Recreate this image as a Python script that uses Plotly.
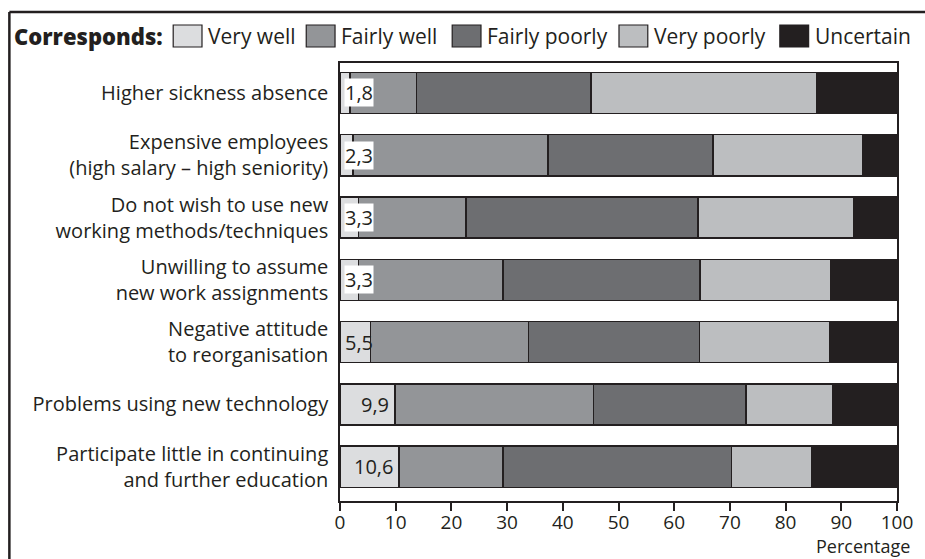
import plotly.graph_objects as go

# ---- data -------------------------------------------------------------
categories = [
    "Higher sickness absence",
    "Expensive employees<br>(high salary – high seniority)",
    "Do not wish to use new<br>working methods/techniques",
    "Unwilling to assume<br>new work assignments",
    "Negative attitude<br>to reorganisation",
    "Problems using new technology",
    "Participate little in continuing<br>and further education",
]
series_names = ["Very well", "Fairly well", "Fairly poorly", "Very poorly", "Uncertain"]
very_well = [1.8, 2.3, 3.3, 3.3, 5.5, 9.9, 10.6]
fairly_well = [11.9, 35.0, 19.3, 26.0, 28.3, 35.6, 18.7]
fairly_poorly = [31.4, 29.7, 41.7, 35.3, 30.7, 27.4, 41.0]
very_poorly = [40.5, 26.9, 28.0, 23.5, 23.4, 15.5, 14.4]
uncertain = [14.4, 6.1, 7.7, 11.9, 12.1, 11.6, 15.3]
x_ticks = [0, 10, 20, 30, 40, 50, 60, 70, 80, 90, 100]

# ---- styling ----------------------------------------------------------
W, H = 925, 559
PLOT_L, PLOT_R, PLOT_T, PLOT_B = 340, 901, 63, 501
FONT = "Open Sans"
INK = "#231f20"
fills = ["#dcdddf", "#939598", "#6d6e71", "#bcbec0", "#231f20"]


def px_x(x):
    return (x - PLOT_L) / (PLOT_R - PLOT_L)


def px_y(y):
    return (PLOT_B - y) / (PLOT_B - PLOT_T)


fig = go.Figure()
all_series = [very_well, fairly_well, fairly_poorly, very_poorly, uncertain]
for name, vals, col in zip(series_names, all_series, fills):
    fig.add_trace(go.Bar(
        y=categories, x=vals, name=name, orientation="h",
        marker=dict(color=col, line=dict(color=INK, width=1.5)),
        showlegend=False, hoverinfo="x+name",
    ))

# value labels for the first segment
annotations = []
for cat, v in zip(categories, very_well):
    label = f"{v:.1f}".replace(".", ",")
    narrow = v < 9
    annotations.append(dict(
        x=0 if narrow else v, y=cat, xref="x", yref="y",
        text=label, showarrow=False,
        xanchor="left" if narrow else "right",
        xshift=4 if narrow else -5,
        font=dict(family=FONT, size=20, color=INK),
        bgcolor="white" if v < 5 else "rgba(0,0,0,0)",
        borderpad=0,
    ))

# legend row drawn across the top of the frame
legend_box_left = [172, 306, 453, 621, 783]
shapes = []
annotations.append(dict(
    x=px_x(10), y=px_y(36), xref="paper", yref="paper",
    text="Corresponds:", showarrow=False, xanchor="left", yanchor="middle",
    font=dict(family=FONT, size=22, color=INK, weight=800),
))
for name, col, bx in zip(series_names, fills, legend_box_left):
    shapes.append(dict(
        type="rect", xref="paper", yref="paper",
        x0=px_x(bx), x1=px_x(bx + 29), y0=px_y(47), y1=px_y(25),
        fillcolor=col, line=dict(color=INK, width=1.2),
    ))
    annotations.append(dict(
        x=px_x(bx + 33), y=px_y(36), xref="paper", yref="paper",
        text=name, showarrow=False, xanchor="left", yanchor="middle",
        font=dict(family=FONT, size=21, color=INK),
    ))

# outer frame (top and left edges)
shapes.append(dict(type="line", xref="paper", yref="paper",
                   x0=px_x(7), x1=px_x(W + 5), y0=px_y(12), y1=px_y(12),
                   line=dict(color=INK, width=2.5)))
shapes.append(dict(type="line", xref="paper", yref="paper",
                   x0=px_x(7), x1=px_x(7), y0=px_y(12), y1=px_y(H + 5),
                   line=dict(color=INK, width=2.5)))

annotations.append(dict(
    x=px_x(916), y=px_y(559), xref="paper", yref="paper",
    text="Percentage", showarrow=False, xanchor="right", yanchor="bottom",
    yshift=-1,
    font=dict(family=FONT, size=18, color=INK),
))

fig.update_layout(
    width=W, height=H,
    margin=dict(l=PLOT_L, r=W - PLOT_R, t=PLOT_T, b=H - PLOT_B, pad=0),
    barmode="stack", bargap=0.34,
    paper_bgcolor="white", plot_bgcolor="white",
    font=dict(family=FONT, size=20, color=INK),
    showlegend=False,
    shapes=shapes, annotations=annotations,
)
fig.update_xaxes(
    range=[0, 100], tickvals=x_ticks, ticks="outside", ticklen=8, tickwidth=1.5,
    tickcolor=INK, showline=True, linecolor=INK, linewidth=1.5, mirror=True,
    showgrid=False, zeroline=False, ticklabelstandoff=-5,
    tickfont=dict(family=FONT, size=19, color=INK),
)
fig.update_yaxes(
    type="category", categoryorder="array", categoryarray=categories,
    range=[6.55, -0.48], showline=True, linecolor=INK, linewidth=1.5, mirror=True,
    showgrid=False, ticks="", ticklabelstandoff=6,
    tickfont=dict(family=FONT, size=20, color=INK),
)

fig.write_html("out.html")
